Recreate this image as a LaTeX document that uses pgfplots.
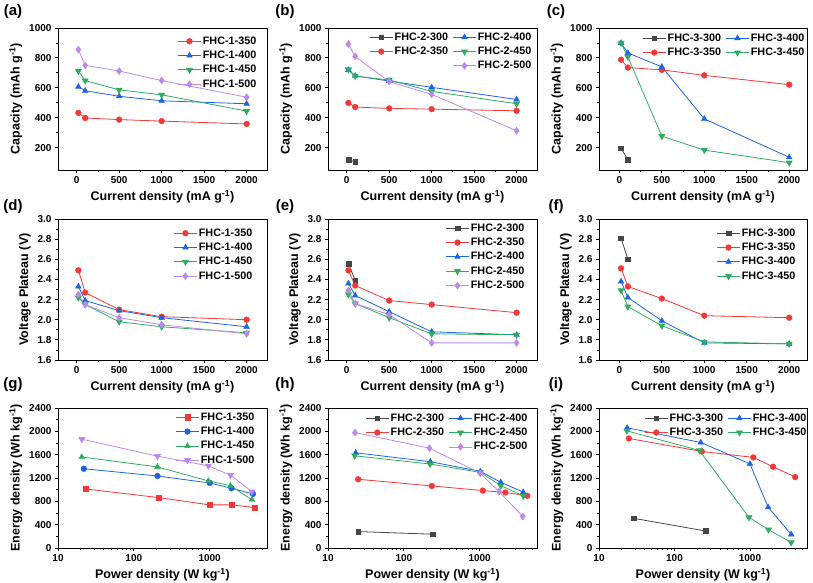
\documentclass[border=0pt]{standalone}
\usepackage{fontspec}
\setmainfont{Liberation Sans}
\usepackage{pgfplots}
\pgfplotsset{compat=1.18}
\definecolor{cRed}{RGB}{242,56,56}
\definecolor{cBlue}{RGB}{30,100,222}
\definecolor{cGreen}{RGB}{48,172,98}
\definecolor{cPurple}{RGB}{188,138,235}
\definecolor{cGray}{RGB}{70,70,70}
\pgfplotsset{
  panel/.style={
    scale only axis,
    axis line style={line width=0.8pt, black},
    tick align=outside, xtick pos=bottom, ytick pos=left,
    major tick length=3pt, minor tick length=1.8pt,
    tick style={black, line width=0.8pt},
    tick label style={font=\bfseries\fontsize{10}{10}\selectfont},
    label style={font=\bfseries\fontsize{12.5}{14}\selectfont},
    /pgf/number format/assume math mode=true,
    /pgf/number format/1000 sep={},
    legend style={draw=none, fill=none, inner sep=0pt, anchor=north east,
      font=\bfseries\fontsize{10.8}{12}\selectfont,
      nodes={inner sep=1.5pt}, row sep=2.3pt,
      /tikz/every even column/.append style={column sep=3pt}},
    legend cell align=left,
    legend image code/.code={\draw[mark repeat=2,mark phase=2] plot coordinates {(0pt,0pt) (11.5pt,0pt) (23pt,0pt)};},
    every axis plot/.append style={line width=0.8pt, mark options={solid, line width=0.4pt}},
  },
  capx/.style={xmin=-220, xmax=2240, xtick={0,500,1000,1500,2000}, minor x tick num=1,
    xlabel={Current density (mA g\textsuperscript{-1})}},
  capx3/.style={capx, xmin=-240, xmax=2210},
  capy/.style={ymin=50, ymax=1000, ytick={200,400,600,800,1000}, minor y tick num=1,
    ylabel={Capacity (mAh g\textsuperscript{-1})}},
  volty/.style={ymin=1.6, ymax=3.0, ytick={1.6,1.8,2.0,2.2,2.4,2.6,2.8,3.0}, minor y tick num=1,
    yticklabel style={/pgf/number format/.cd, fixed, fixed zerofill, precision=1},
    ylabel={Voltage Plateau (V)}},
  engy/.style={ymin=0, ymax=2400, ytick={0,400,800,1200,1600,2000,2400}, minor y tick num=1,
    ylabel={Energy density (Wh kg\textsuperscript{-1})}},
  powx/.style={xmin=10, xmax=5700, log ticks with fixed point,
    xlabel={Power density (W kg\textsuperscript{-1})}},
  sGraySq/.style={color=cGray, mark=square*, mark size=2.4pt},
  sRedCi/.style={color=cRed, mark=*, mark size=2.9pt},
  sRedSq/.style={color=cRed, mark=square*, mark size=2.6pt},
  sBlueTr/.style={color=cBlue, mark=triangle*, mark size=3.3pt},
  sBlueCi/.style={color=cBlue, mark=*, mark size=2.9pt},
  sGreenDn/.style={color=cGreen, mark=triangle*, mark size=3.3pt, mark options={rotate=180}},
  sGreenTr/.style={color=cGreen, mark=triangle*, mark size=3.3pt},
  sPurpDi/.style={color=cPurple, mark=diamond*, mark size=3.5pt},
  sPurpDn/.style={color=cPurple, mark=triangle*, mark size=3.3pt, mark options={rotate=180}},
}
\begin{document}
\begin{tikzpicture}
\path[use as bounding box] (0,0) rectangle (813pt,583pt);
\tikzset{plab/.style={font=\bfseries\fontsize{15}{16}\selectfont}}
\node[plab] at (13pt,571pt) {(a)};
\node[plab] at (285pt,571pt) {(b)};
\node[plab] at (556pt,571pt) {(c)};
\node[plab] at (13pt,376.5pt) {(d)};
\node[plab] at (285pt,376.5pt) {(e)};
\node[plab] at (556pt,376.5pt) {(f)};
\node[plab] at (13pt,198pt) {(g)};
\node[plab] at (285pt,198pt) {(h)};
\node[plab] at (556pt,198pt) {(i)};

% ---------- (a)
\begin{axis}[panel, capx, capy, at={(58pt,555pt)}, anchor=north west, width=209pt, height=142pt,
  legend style={at={(1,1)}, xshift=-9pt, yshift=-7pt}]
\addplot[sRedCi] coordinates {(20,432)(100,398)(500,387)(1000,377)(2000,358)};
\addlegendentry{FHC-1-350}
\addplot[sBlueTr] coordinates {(20,607)(100,580)(500,543)(1000,513)(2000,493)};
\addlegendentry{FHC-1-400}
\addplot[sGreenDn] coordinates {(20,712)(100,648)(500,586)(1000,553)(2000,444)};
\addlegendentry{FHC-1-450}
\addplot[sPurpDi] coordinates {(20,855)(100,750)(500,712)(1000,648)(2000,537)};
\addlegendentry{FHC-1-500}
\end{axis}

% ---------- (b)
\begin{axis}[panel, capx, capy, at={(328pt,555pt)}, anchor=north west, width=209pt, height=142pt,
  legend columns=2, legend style={at={(1,1)}, xshift=-4pt, yshift=-3pt}]
\addplot[sGraySq, forget plot] coordinates {(20,118)(100,105)};
\addplot[sRedCi, forget plot] coordinates {(20,499)(100,471)(500,462)(1000,457)(2000,446)};
\addplot[sBlueTr, forget plot] coordinates {(20,718)(100,680)(500,645)(1000,603)(2000,522)};
\addplot[sGreenDn, forget plot] coordinates {(20,722)(100,678)(500,652)(1000,576)(2000,493)};
\addplot[sPurpDi, forget plot] coordinates {(20,892)(100,810)(500,641)(1000,556)(2000,312)};
\addlegendimage{sGraySq}\addlegendentry{FHC-2-300}
\addlegendimage{sBlueTr}\addlegendentry{FHC-2-400}
\addlegendimage{sRedCi}\addlegendentry{FHC-2-350}
\addlegendimage{sGreenDn}\addlegendentry{FHC-2-450}
\addlegendimage{empty legend}\addlegendentry{}
\addlegendimage{sPurpDi}\addlegendentry{FHC-2-500}
\end{axis}

% ---------- (c)
\begin{axis}[panel, capx3, capy, at={(599pt,555pt)}, anchor=north west, width=208pt, height=142pt,
  legend columns=2, legend style={at={(1,1)}, xshift=-1pt, yshift=-4pt}]
\addplot[sGraySq, forget plot] coordinates {(20,196)(100,118)};
\addplot[sRedCi, forget plot] coordinates {(20,788)(100,735)(500,720)(1000,683)(2000,621)};
\addplot[sBlueTr, forget plot] coordinates {(20,900)(100,833)(500,740)(1000,392)(2000,135)};
\addplot[sGreenDn, forget plot] coordinates {(20,900)(100,807)(500,276)(1000,183)(2000,99)};
\addlegendimage{sGraySq}\addlegendentry{FHC-3-300}
\addlegendimage{sBlueTr}\addlegendentry{FHC-3-400}
\addlegendimage{sRedCi}\addlegendentry{FHC-3-350}
\addlegendimage{sGreenDn}\addlegendentry{FHC-3-450}
\end{axis}

% ---------- (d)
\begin{axis}[panel, capx, volty, at={(58pt,364pt)}, anchor=north west, width=209pt, height=141pt,
  legend style={at={(1,1)}, xshift=-13pt, yshift=-8pt}]
\addplot[sRedCi] coordinates {(20,2.49)(100,2.27)(500,2.10)(1000,2.03)(2000,2.00)};
\addlegendentry{FHC-1-350}
\addplot[sBlueTr] coordinates {(20,2.33)(100,2.19)(500,2.09)(1000,2.02)(2000,1.93)};
\addlegendentry{FHC-1-400}
\addplot[sGreenDn] coordinates {(20,2.22)(100,2.15)(500,1.98)(1000,1.93)(2000,1.87)};
\addlegendentry{FHC-1-450}
\addplot[sPurpDi] coordinates {(20,2.25)(100,2.15)(500,2.02)(1000,1.95)(2000,1.86)};
\addlegendentry{FHC-1-500}
\end{axis}

% ---------- (e)
\begin{axis}[panel, capx, volty, at={(328pt,364pt)}, anchor=north west, width=209pt, height=141pt,
  legend style={at={(1,1)}, xshift=-11pt, yshift=-3pt}]
\addplot[sGraySq] coordinates {(20,2.56)(100,2.39)};
\addlegendentry{FHC-2-300}
\addplot[sRedCi] coordinates {(20,2.49)(100,2.34)(500,2.19)(1000,2.15)(2000,2.07)};
\addlegendentry{FHC-2-350}
\addplot[sBlueTr] coordinates {(20,2.36)(100,2.24)(500,2.08)(1000,1.88)(2000,1.85)};
\addlegendentry{FHC-2-400}
\addplot[sGreenDn] coordinates {(20,2.25)(100,2.16)(500,2.02)(1000,1.86)(2000,1.85)};
\addlegendentry{FHC-2-450}
\addplot[sPurpDi] coordinates {(20,2.29)(100,2.16)(500,2.05)(1000,1.77)(2000,1.77)};
\addlegendentry{FHC-2-500}
\end{axis}

% ---------- (f)
\begin{axis}[panel, capx3, volty, at={(599pt,364pt)}, anchor=north west, width=208pt, height=141pt,
  legend style={at={(1,1)}, xshift=-10pt, yshift=-8pt}]
\addplot[sGraySq] coordinates {(20,2.81)(100,2.60)};
\addlegendentry{FHC-3-300}
\addplot[sRedCi] coordinates {(20,2.51)(100,2.33)(500,2.21)(1000,2.04)(2000,2.02)};
\addlegendentry{FHC-3-350}
\addplot[sBlueTr] coordinates {(20,2.38)(100,2.22)(500,1.99)(1000,1.77)(2000,1.76)};
\addlegendentry{FHC-3-400}
\addplot[sGreenDn] coordinates {(20,2.29)(100,2.13)(500,1.94)(1000,1.78)(2000,1.76)};
\addlegendentry{FHC-3-450}
\end{axis}

% ---------- (g)
\begin{axis}[panel, xmode=log, powx, engy, at={(58pt,175pt)}, anchor=north west, width=209pt, height=140pt,
  legend style={at={(1,1)}, xshift=-11pt, yshift=-3pt}]
\addplot[sRedSq] coordinates {(23,1012)(213,864)(1000,739)(1936,739)(3890,694)};
\addlegendentry{FHC-1-350}
\addplot[sBlueCi] coordinates {(21.9,1359)(205,1234)(1000,1115)(1936,1024)(3720,927)};
\addlegendentry{FHC-1-400}
\addplot[sGreenTr] coordinates {(20.6,1560)(205,1390)(960,1150)(1880,1068)(3600,826)};
\addlegendentry{FHC-1-450}
\addplot[sPurpDn] coordinates {(20.6,1865)(205,1575)(960,1408)(1880,1248)(3600,967)};
\addlegendentry{FHC-1-500}
\end{axis}

% ---------- (h)
\begin{axis}[panel, xmode=log, powx, engy, at={(328pt,175pt)}, anchor=north west, width=209pt, height=140pt,
  legend columns=2, legend style={at={(1,1)}, xshift=-8pt, yshift=-4pt}]
\addplot[sGraySq, forget plot] coordinates {(25,282)(241,236)};
\addplot[sRedCi, forget plot] coordinates {(25,1178)(234,1064)(1100,984)(2180,952)(4240,895)};
\addplot[sBlueTr, forget plot] coordinates {(23.2,1632)(224,1479)(1020,1314)(1900,1126)(3750,958)};
\addplot[sGreenDn, forget plot] coordinates {(22.5,1581)(221,1440)(1020,1297)(1900,1069)(3750,893)};
\addplot[sPurpDi, forget plot] coordinates {(22.7,1979)(218,1712)(1020,1280)(1800,967)(3700,540)};
\addlegendimage{sGraySq}\addlegendentry{FHC-2-300}
\addlegendimage{sBlueTr}\addlegendentry{FHC-2-400}
\addlegendimage{sRedCi}\addlegendentry{FHC-2-350}
\addlegendimage{sGreenDn}\addlegendentry{FHC-2-450}
\addlegendimage{empty legend}\addlegendentry{}
\addlegendimage{sPurpDi}\addlegendentry{FHC-2-500}
\end{axis}

% ---------- (i)
\begin{axis}[panel, xmode=log, powx, engy, at={(599pt,175pt)}, anchor=north west, width=208pt, height=140pt,
  legend columns=2, legend style={at={(1,1)}, xshift=1pt, yshift=-4pt}]
\addplot[sGraySq, forget plot] coordinates {(28.5,510)(262,290)};
\addplot[sRedCi, forget plot] coordinates {(24.8,1878)(230,1655)(1107,1553)(2020,1393)(3980,1215)};
\addplot[sBlueTr, forget plot] coordinates {(23.6,2060)(223,1809)(1000,1442)(1740,700)(3520,233)};
\addplot[sGreenDn, forget plot] coordinates {(23.4,2008)(214,1672)(970,525)(1760,315)(3520,95)};
\addlegendimage{sGraySq}\addlegendentry{FHC-3-300}
\addlegendimage{sBlueTr}\addlegendentry{FHC-3-400}
\addlegendimage{sRedCi}\addlegendentry{FHC-3-350}
\addlegendimage{sGreenDn}\addlegendentry{FHC-3-450}
\end{axis}
\end{tikzpicture}
\end{document}
